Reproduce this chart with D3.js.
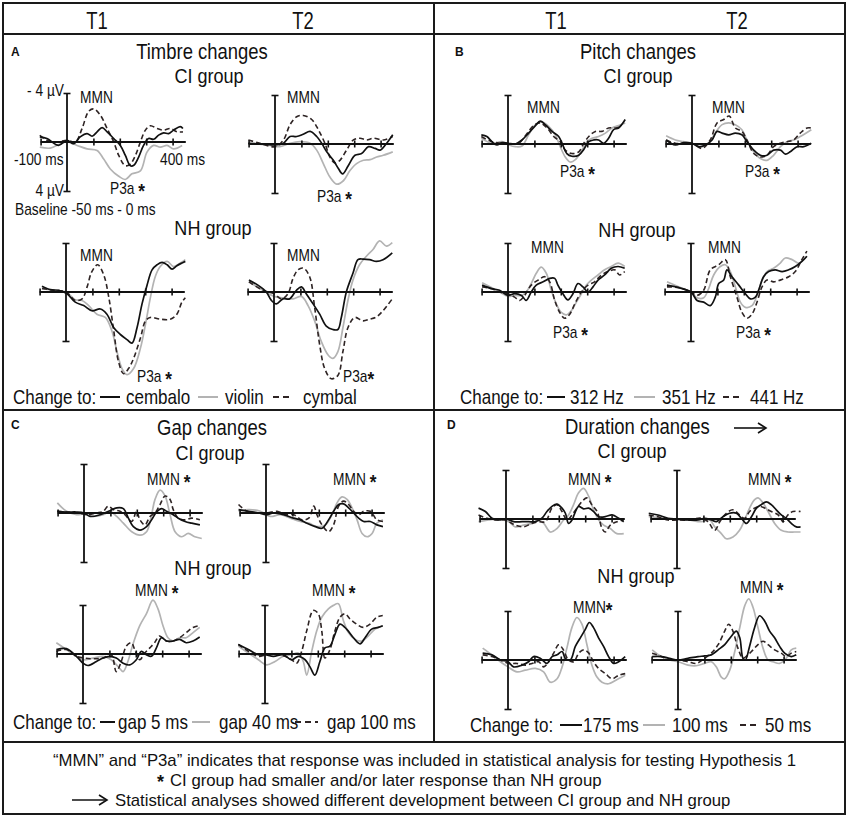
<!DOCTYPE html>
<html><head><meta charset="utf-8">
<script src="https://cdn.jsdelivr.net/npm/d3@7"></script>
<style>
body{margin:0;background:#fff}
svg{display:block}
text{font-family:"Liberation Sans",Arial,sans-serif;fill:#111}
</style></head><body>
<svg id="chart" width="850" height="818"></svg>
<script>
// ---------- DATA: [time in ms, amplitude in µV] (negative plotted up) ----------
const timeTicks = [-100, 100, 200, 300, 400];
const voltTicks = [-4, 4];
const columns = ["T1", "T2"];

// Panel A – Timbre
const timbre_CI_T1_cembalo = [[-103,-0.42],[-76,-0.28],[-32,0.28],[0,-0.14],[25,0.14],[50,-0.42],[76,-0.69],[95,-0.47],[114,-0.83],[133,-1.17],[152,-0.83],[177,-0.28],[202,0.28],[221,1.1],[240,1.94],[253,1.9],[271,1.25],[290,0.28],[309,-0.28],[328,-0.22],[347,-0.56],[366,-0.75],[385,-0.69],[404,-0.97],[429,-1.25],[439,-1.1]];
const timbre_CI_T1_violin = [[-103,0.42],[-63,0.5],[-25,0.14],[0,0],[38,0.28],[76,0.56],[114,0.69],[139,1.39],[164,2.2],[196,2.8],[221,3.06],[246,2.6],[278,2.36],[303,0.83],[328,0.28],[354,0.42],[379,0.28],[404,0.56],[436,0.28]];
const timbre_CI_T1_cymbal = [[-103,-0.55],[-76,-0.14],[-38,0],[0,-0.14],[32,0],[57,-1.1],[82,-2.5],[101,-2.7],[126,-2.2],[152,-1.1],[177,0],[196,1.1],[221,1.94],[240,1.8],[259,1.1],[278,0],[297,-0.97],[316,-1.33],[341,-1.1],[366,-0.97],[391,-1.1],[417,-0.83],[439,-0.83]];
const timbre_CI_T2_cembalo = [[-101,-0.06],[-44,0],[0,0.08],[32,-0.06],[57,-0.61],[82,-0.61],[107,-0.8],[133,-1.03],[158,-0.61],[177,-0.06],[196,0.64],[221,1.33],[240,2.0],[256,2.44],[278,1.75],[303,0.92],[328,0.78],[354,0.22],[379,0.36],[398,0.5],[423,-0.06],[446,-0.75]];
const timbre_CI_T2_violin = [[-101,-0.06],[-32,0.08],[19,0.22],[57,-0.06],[95,-0.19],[133,-0.06],[158,0.5],[183,1.6],[208,2.7],[234,3.28],[259,3.0],[284,2.17],[309,1.6],[335,1.33],[360,1.28],[385,1.06],[410,0.92],[446,0.64]];
const timbre_CI_T2_cymbal = [[-101,-0.33],[-57,-0.06],[0,0.22],[32,-0.33],[57,-1.58],[82,-2.22],[107,-2.33],[139,-2.0],[164,-1.17],[189,-0.06],[208,1.06],[227,1.55],[246,1.33],[271,0.5],[297,-0.33],[322,-0.47],[347,-0.33],[372,-0.47],[410,-0.33],[446,-0.61]];
const timbre_NH_T1_cembalo = [[-91,-0.47],[-59,-0.19],[-28,-0.14],[4,0.14],[35,0.83],[67,1.11],[98,1.53],[130,1.39],[155,1.81],[181,2.92],[206,3.47],[231,3.89],[250,4.17],[269,2.92],[288,0.97],[307,-0.56],[326,-1.81],[345,-2.22],[364,-2.42],[383,-2.22],[402,-1.86],[420,-2.14],[452,-2.5]];
const timbre_NH_T1_violin = [[-91,-0.28],[-47,-0.14],[0,0],[35,0.64],[61,0.69],[86,1.11],[117,1.81],[149,2.08],[174,3.19],[193,4.86],[212,6.25],[231,6.75],[256,6.25],[282,4.58],[301,2.64],[320,0.42],[338,-1.25],[357,-2.08],[383,-2.5],[408,-2.08],[433,-2.36],[452,-2.64]];
const timbre_NH_T1_cymbal = [[-91,-0.28],[-47,-0.14],[0,0],[35,0.69],[61,0.56],[80,-0.42],[98,-1.67],[120,-2.22],[143,-1.39],[162,0.42],[181,3.19],[199,5.69],[218,6.67],[237,6.25],[256,5.42],[282,3.75],[301,2.36],[319,2.08],[357,2.22],[395,2.22],[420,1.81],[439,0.83],[452,0.47]];
const timbre_NH_T2_cembalo = [[-95,-0.97],[-61,-0.56],[-29,0],[-10,0.69],[9,0.97],[34,0.56],[59,0.56],[85,-0.14],[104,-0.42],[122,0.14],[148,0.97],[173,1.81],[198,2.78],[223,3.06],[242,3.06],[255,2.08],[274,0],[299,-1.53],[318,-2.64],[337,-2.69],[362,-2.64],[388,-2.5],[413,-2.64],[448,-3.19]];
const timbre_NH_T2_violin = [[-95,-0.83],[-42,-0.14],[0,0.36],[34,0.47],[72,0.56],[104,0.36],[129,1.11],[154,2.36],[179,4.03],[205,5.14],[223,5.42],[242,4.86],[261,2.92],[280,0.69],[299,-0.97],[324,-2.22],[350,-2.92],[375,-3.47],[400,-4.17],[426,-3.75],[448,-4.03]];
const timbre_NH_T2_cymbal = [[-95,-0.83],[-42,-0.14],[0,0.14],[28,0.56],[53,0.14],[72,-1.11],[91,-1.81],[112,-1.94],[135,-1.25],[154,1.25],[173,4.31],[192,6.25],[217,7.08],[242,6.81],[261,4.86],[280,2.92],[306,2.08],[337,2.36],[362,2.22],[388,2.03],[413,1.53],[448,0.56]];

// Panel B – Pitch
const pitch_CI_T1_312 = [[-101,-0.75],[-80,-0.61],[-61,-0.19],[-42,0.08],[-23,-0.11],[0,-0.06],[28,0],[53,-0.33],[78,-0.89],[104,-1.5],[122,-1.86],[141,-1.58],[167,-1.03],[192,-0.61],[205,-0.06],[223,0.78],[242,1.0],[268,0.92],[287,0.44],[306,-0.19],[325,-0.33],[343,-0.33],[362,-0.06],[381,-0.47],[400,-1.17],[419,-1.31],[444,-2.0]];
const pitch_CI_T1_351 = [[-101,-0.47],[-61,-0.06],[-23,-0.19],[3,0.08],[28,0.22],[53,0.17],[78,-0.75],[104,-1.58],[129,-1.78],[154,-1.44],[179,-0.75],[198,0.22],[217,1.06],[236,1.47],[255,1.28],[280,0.5],[299,-0.19],[318,-0.47],[343,-0.61],[369,-0.89],[394,-1.31],[419,-1.5],[444,-1.72]];
const pitch_CI_T1_441 = [[-101,-0.61],[-61,-0.19],[-23,-0.06],[0,0],[40,-0.06],[66,-0.67],[97,-1.5],[122,-1.72],[148,-1.31],[173,-0.61],[198,-0.19],[217,0.5],[242,0.78],[268,0.64],[287,-0.06],[306,-0.61],[331,-1.03],[356,-1.03],[381,-1.31],[407,-1.31],[432,-1.44]];
const pitch_CI_T2_312 = [[-98,-0.33],[-63,0.08],[-32,-0.11],[0,-0.06],[25,0.22],[51,0.08],[76,-0.33],[95,-1.03],[114,-0.89],[139,-0.75],[164,-0.89],[189,-0.75],[208,-0.19],[234,0.5],[259,0.92],[284,0.92],[309,0.5],[335,0.5],[354,0.83],[372,0.64],[398,0.22],[423,0.22],[452,-0.06]];
const pitch_CI_T2_351 = [[-98,-0.67],[-63,-0.33],[-32,-0.19],[0,-0.06],[32,0.22],[63,-0.06],[88,-0.89],[114,-1.58],[139,-1.72],[164,-1.58],[189,-1.17],[208,-0.33],[234,0.64],[259,1.19],[284,1.33],[309,0.92],[335,0.22],[360,-0.19],[385,-0.33],[410,-0.61],[452,-1.17]];
const pitch_CI_T2_441 = [[-98,-0.33],[-63,-0.06],[0,-0.06],[38,0.36],[69,-0.33],[95,-1.72],[120,-2.0],[141,-2.28],[164,-1.31],[189,-1.03],[208,-0.33],[234,0.78],[259,1.06],[284,0.92],[309,0.22],[335,-0.06],[360,-0.19],[385,-0.33],[410,-0.89],[436,-1.31],[452,-1.31]];
const pitch_NH_T1_312 = [[-98,-0.56],[-63,-0.28],[-32,-0.14],[0,0.28],[25,0.14],[51,0.28],[69,0.69],[88,0],[107,-0.56],[133,-0.83],[158,-1.11],[177,-1.11],[189,-0.56],[208,0.14],[227,0.64],[246,0.14],[265,-0.69],[284,-0.42],[303,0],[322,-0.42],[341,-0.97],[366,-1.39],[391,-1.94],[417,-2.08],[442,-1.94]];
const pitch_NH_T1_351 = [[-98,-0.75],[-63,-0.36],[-32,0],[0,0.36],[25,0.28],[51,0.28],[69,0],[88,-0.69],[107,-1.53],[126,-2.03],[145,-1.53],[164,-0.14],[183,0.97],[202,1.67],[221,1.86],[240,1.53],[259,0.83],[278,0.14],[297,-0.56],[316,-0.97],[341,-1.39],[366,-1.81],[391,-2.08],[417,-2.36],[442,-2.08]];
const pitch_NH_T1_441 = [[-98,-0.42],[-63,-0.28],[-32,0],[0,0.14],[25,0.42],[44,0.69],[63,0.28],[88,-0.56],[114,-0.97],[139,-1.25],[158,-0.83],[177,0.69],[196,1.67],[215,2.14],[234,1.81],[253,0.97],[278,0],[303,-0.56],[328,-0.83],[354,-1.39],[379,-1.67],[404,-1.81],[423,-1.39],[442,-1.67]];
const pitch_NH_T2_312 = [[-91,-0.56],[-47,-0.36],[0,0],[23,0.69],[48,0.83],[73,1.11],[92,0.42],[105,-0.69],[124,-0.97],[136,-1.81],[155,-1.25],[181,-0.56],[206,0.14],[225,0.56],[244,0.42],[256,-0.14],[275,-1.25],[294,-1.67],[319,-1.81],[345,-1.67],[370,-1.81],[395,-2.08],[420,-2.5],[439,-2.92]];
const pitch_NH_T2_351 = [[-91,-0.83],[-47,-0.42],[0,0],[23,0.47],[48,0.47],[67,-0.28],[86,-1.39],[111,-2.08],[130,-2.22],[149,-1.67],[168,-0.42],[187,0.83],[206,1.25],[231,1.11],[250,0.28],[269,-0.97],[288,-1.67],[313,-1.94],[338,-2.36],[357,-2.78],[383,-2.64],[408,-2.36],[439,-2.92]];
const pitch_NH_T2_441 = [[-91,-0.42],[-47,-0.36],[0,0],[23,0.28],[48,-0.14],[73,-1.81],[105,-2.22],[130,-2.64],[149,-1.25],[174,0.42],[193,1.67],[212,2.14],[231,1.81],[250,0.83],[269,-0.42],[288,-0.97],[313,-0.83],[338,-0.97],[370,-1.25],[395,-1.67],[420,-2.64],[439,-3.33]];

// Panel C – Gap
const gap_CI_T1_5 = [[-101,-0.14],[-66,-0.08],[-28,-0.08],[0,0],[23,0.28],[61,0.14],[98,-0.19],[124,-0.42],[149,-0.36],[168,0.42],[187,1.11],[212,1.39],[237,1.11],[256,0.56],[275,-0.08],[294,-0.36],[313,-0.14],[338,0.14],[357,0.42],[383,0.69],[408,0.83],[439,0.97]];
const gap_CI_T1_40 = [[-101,-0.83],[-66,-0.14],[-28,0.14],[0,0.08],[35,0.28],[73,0.14],[98,-0.14],[124,0.28],[149,0.83],[181,1.53],[212,1.81],[237,1.53],[256,0.14],[269,-1.11],[288,-1.86],[307,-1.39],[326,0.14],[345,1.53],[370,1.94],[395,1.67],[420,1.94],[446,2.08]];
const gap_CI_T1_100 = [[-101,-0.14],[-66,-0.08],[-21,0],[10,0.14],[48,0],[73,-0.14],[92,-0.56],[111,-0.28],[136,-0.14],[155,0.14],[181,0.69],[199,-0.14],[212,0.56],[231,0.97],[250,0.28],[269,0],[288,-0.69],[307,-1.39],[326,-1.11],[338,-0.28],[357,0.42],[383,0.56],[408,0.42],[439,0.56]];
const gap_CI_T2_5 = [[-104,-0.28],[-66,-0.14],[-28,0],[0,0.14],[29,0],[67,0.14],[105,0.42],[130,0.56],[155,0.83],[187,1.11],[212,1.25],[237,0.56],[256,-0.14],[275,-0.69],[294,-0.75],[313,-0.42],[332,0],[351,0.42],[370,0.69],[395,0.69],[420,0.97],[443,1.11]];
const gap_CI_T2_40 = [[-104,-0.14],[-66,-0.28],[-21,-0.14],[16,0.28],[54,0.14],[92,0.42],[130,0.69],[162,0.83],[193,1.11],[225,0.97],[250,0.14],[269,-0.83],[288,-1.31],[307,-1.11],[326,-0.42],[345,0.56],[364,1.67],[383,1.94],[402,1.67],[420,0.83],[443,0.56]];
const gap_CI_T2_100 = [[-104,-0.69],[-72,-0.14],[-34,0],[4,0],[42,-0.14],[73,0.14],[105,0.14],[136,0.56],[162,0.42],[181,-0.56],[193,0.14],[212,0.97],[237,1.53],[256,0.97],[275,-0.56],[294,-0.97],[313,-0.69],[332,-0.14],[351,0.14],[370,-0.14],[395,-0.14],[420,0.56],[443,0.69]];
const gap_NH_T1_5 = [[-101,-0.36],[-63,-0.44],[-25,0.19],[0,0.75],[19,0.94],[51,0.61],[76,0.33],[101,0.19],[126,0.33],[152,0.75],[177,0.89],[202,0.47],[221,-0.22],[240,0.06],[259,0.19],[278,-0.5],[297,-1.33],[316,-1.06],[341,-1.06],[366,-1.19],[391,-0.92],[417,-1.06],[442,-1.39]];
const gap_NH_T1_40 = [[-101,-0.92],[-63,-0.36],[-25,0.19],[0,0.47],[38,0.33],[76,0.19],[107,0.47],[133,1.03],[152,1.44],[170,0.61],[189,-0.78],[215,-2.31],[240,-3.28],[265,-4.39],[284,-3.69],[303,-2.31],[322,-1.33],[341,-1.06],[366,-1.33],[391,-1.33],[417,-1.75],[442,-2.17]];
const gap_NH_T1_100 = [[-101,-0.22],[-63,-0.36],[-25,0.19],[6,0.33],[38,0.39],[76,0.33],[107,0.06],[126,1.44],[145,0.61],[164,-0.64],[183,-0.92],[196,-0.36],[215,0.47],[234,-0.08],[253,-0.5],[271,-0.92],[290,-1.47],[316,-1.06],[341,-1.06],[366,-1.33],[391,-1.75],[417,-2.17],[442,-2.31]];
const gap_NH_T2_5 = [[-101,-0.78],[-63,-0.36],[-25,0.06],[0,0.06],[32,0.19],[69,0.06],[101,0.47],[126,0.19],[152,0.47],[170,1.03],[189,1.72],[208,0.61],[227,-0.5],[246,-0.64],[265,-1.61],[284,-2.44],[309,-2.03],[335,-1.33],[360,-0.83],[379,-1.33],[404,-2.03],[429,-2.17],[446,-2.31]];
const gap_NH_T2_40 = [[-101,-0.64],[-63,-0.08],[-25,0.47],[6,0.89],[38,0.61],[69,0.19],[101,0.06],[126,-0.08],[145,0.61],[158,1.72],[177,-0.22],[196,-1.89],[215,-3.0],[240,-3.69],[259,-3.97],[278,-4.11],[297,-2.72],[316,-1.75],[341,-1.19],[366,-1.06],[391,-1.47],[417,-2.03],[446,-2.31]];
const gap_NH_T2_100 = [[-101,-0.78],[-63,-0.22],[-25,0.19],[6,0.06],[44,0],[76,0.19],[101,0.47],[120,0.75],[139,-0.22],[158,-1.89],[183,-3.56],[202,-3.28],[215,-1.89],[227,0.33],[246,-0.36],[265,-1.89],[284,-3.0],[303,-3.28],[322,-2.86],[347,-2.44],[372,-2.17],[398,-2.44],[423,-3.0],[446,-3.14]];

// Panel D – Duration
const dur_CI_T1_175 = [[-104,-0.89],[-78,-0.61],[-53,-0.06],[-28,0.08],[0,0],[29,0.22],[61,0.22],[86,0.22],[111,0.22],[136,-0.06],[155,-0.61],[174,-1.03],[193,-1.22],[212,-0.89],[225,-0.47],[237,0.36],[250,0.08],[263,-0.61],[275,-1.03],[294,-0.83],[313,-0.89],[332,-0.61],[351,-0.19],[376,-0.19],[402,-0.33],[427,-0.06],[446,0.22]];
const dur_CI_T1_100 = [[-104,0.22],[-66,0.08],[-28,0],[10,0.22],[35,0.64],[67,0.5],[98,0.36],[124,0.08],[143,0.36],[168,1.06],[193,0.78],[218,0.08],[237,-0.33],[256,-1.17],[275,-2.14],[294,-2.5],[313,-1.86],[332,-0.75],[351,0.08],[370,0.5],[395,0.78],[420,1.19],[446,1.19]];
const dur_CI_T1_50 = [[-104,-0.33],[-72,-0.06],[-40,0.08],[-3,0.08],[35,0.5],[67,0.64],[98,0.36],[124,0.22],[149,0.22],[174,-0.89],[193,-1.17],[212,-0.61],[231,0.08],[250,-0.33],[269,-0.89],[288,-1.44],[307,-1.72],[325,-1.17],[345,-0.61],[364,0.78],[376,1.06],[395,0.5],[420,0.22],[446,0.08]];
const dur_CI_T2_175 = [[-107,-0.47],[-72,-0.33],[-34,-0.06],[0,0],[42,0.08],[80,0.08],[105,-0.06],[130,0.08],[149,0.22],[174,-0.19],[199,-0.47],[225,-0.47],[244,-0.06],[263,0.36],[282,-0.19],[301,-0.89],[319,-1.17],[338,-1.39],[357,-1.17],[376,-0.75],[395,-0.33],[414,-0.06],[433,0.36],[452,0.64],[468,0.64]];
const dur_CI_T2_100 = [[-107,-0.19],[-72,-0.11],[-34,0],[0,0.08],[42,0.08],[92,0.22],[124,0.08],[143,0.64],[168,1.19],[187,1.61],[212,1.47],[237,0.92],[256,0.08],[275,-0.89],[294,-1.58],[307,-1.72],[326,-1.31],[345,-0.61],[370,0.36],[395,0.92],[420,1.06],[445,1.06],[468,1.06]];
const dur_CI_T2_50 = [[-107,-0.33],[-72,-0.19],[-34,0.08],[0,0.08],[42,0.08],[92,-0.06],[117,0.22],[143,0.92],[162,0.22],[187,-0.47],[212,-0.75],[237,-0.33],[256,-0.06],[275,-0.61],[294,-0.89],[313,-1.03],[332,-0.89],[357,-0.61],[383,-0.33],[402,0.22],[420,-0.33],[439,-0.61],[468,-0.61]];
const dur_NH_T1_175 = [[-96,-0.56],[-61,-0.42],[-29,0],[0,0.14],[21,0.56],[53,0.42],[78,0.14],[97,-0.28],[122,-0.14],[148,0.28],[167,-0.28],[186,-0.42],[205,-0.69],[217,-0.14],[236,0],[255,-1.11],[274,-1.81],[293,-2.5],[308,-3.06],[324,-2.64],[343,-1.81],[362,-1.11],[381,-0.28],[400,0.28],[419,0.14],[444,-0.28]];
const dur_NH_T1_100 = [[-96,-0.97],[-61,-0.42],[-29,0.14],[0,0.56],[34,0.97],[66,0.83],[104,0.69],[135,0.97],[160,1.81],[186,1.53],[205,0.56],[223,-0.97],[242,-2.64],[261,-3.47],[280,-2.92],[299,-1.25],[318,0.42],[337,1.39],[356,1.81],[381,1.94],[407,1.67],[444,1.25]];
const dur_NH_T1_50 = [[-96,-0.42],[-61,-0.28],[-29,0],[3,0.28],[34,0.28],[66,0.42],[91,0.28],[116,0.14],[135,0.56],[154,0.14],[173,-0.56],[192,-1.25],[210,-0.83],[229,0],[249,0.14],[268,-0.56],[287,-0.83],[306,-0.56],[324,0.14],[343,0.69],[369,1.11],[394,1.53],[419,1.25],[444,1.11]];
const dur_NH_T2_175 = [[-98,-0.28],[-63,-0.28],[-32,-0.14],[0,0],[38,-0.14],[76,-0.28],[101,-0.33],[126,-0.42],[152,-0.83],[177,-1.25],[202,-1.94],[221,-2.36],[234,-1.81],[246,-0.14],[255,0],[271,-1.11],[290,-2.64],[309,-3.61],[328,-3.19],[347,-2.36],[366,-1.81],[385,-1.11],[404,-0.56],[429,-0.28],[448,-0.42]];
const dur_NH_T2_100 = [[-98,-0.83],[-63,-0.28],[-32,0],[0,0.14],[38,0.42],[69,0.47],[101,0.28],[126,0.14],[145,0.56],[164,1.39],[177,1.53],[196,0.83],[215,-0.69],[234,-2.64],[253,-4.44],[268,-5.0],[284,-4.31],[303,-2.64],[322,-0.97],[341,0],[360,0.14],[385,0.28],[410,-0.14],[429,-0.83],[448,-0.97]];
const dur_NH_T2_50 = [[-98,-0.56],[-63,-0.28],[-32,0],[0,0],[38,0.14],[69,0.28],[101,-0.14],[126,-0.56],[152,-1.25],[177,-2.36],[192,-2.92],[208,-2.36],[227,-0.97],[246,-0.14],[265,-0.42],[284,-0.83],[303,-1.25],[322,-1.53],[341,-1.25],[366,-0.83],[391,-0.56],[410,-0.28],[429,-0.56],[448,-0.69]];

const timbreLegend = ["cembalo", "violin", "cymbal"];
const pitchLegend = ["312 Hz", "351 Hz", "441 Hz"];
const gapLegend = ["gap 5 ms", "gap 40 ms", "gap 100 ms"];
const durLegend = ["175 ms", "100 ms", "50 ms"];

// ---------- LAYOUT ----------
const svg = d3.select("#chart");
const styles = [
  {stroke:"#111", dash:null, w:1.7},
  {stroke:"#b3b3b3", dash:null, w:1.7},
  {stroke:"#2e2424", dash:"5,3", w:1.6}
];
const PX_PER_100MS = 26.4, HALF_Y = 49;

const plots = [
  {series:[timbre_CI_T1_cembalo,timbre_CI_T1_violin,timbre_CI_T1_cymbal], ox:67, oy:142},
  {series:[timbre_CI_T2_cembalo,timbre_CI_T2_violin,timbre_CI_T2_cymbal], ox:275, oy:144},
  {series:[timbre_NH_T1_cembalo,timbre_NH_T1_violin,timbre_NH_T1_cymbal], ox:66, oy:292},
  {series:[timbre_NH_T2_cembalo,timbre_NH_T2_violin,timbre_NH_T2_cymbal], ox:274, oy:292},
  {series:[pitch_CI_T1_312,pitch_CI_T1_351,pitch_CI_T1_441], ox:508, oy:144},
  {series:[pitch_CI_T2_312,pitch_CI_T2_351,pitch_CI_T2_441], ox:692, oy:144},
  {series:[pitch_NH_T1_312,pitch_NH_T1_351,pitch_NH_T1_441], ox:508, oy:292},
  {series:[pitch_NH_T2_312,pitch_NH_T2_351,pitch_NH_T2_441], ox:691, oy:292},
  {series:[gap_CI_T1_5,gap_CI_T1_40,gap_CI_T1_100], ox:84, oy:513},
  {series:[gap_CI_T2_5,gap_CI_T2_40,gap_CI_T2_100], ox:266, oy:513},
  {series:[gap_NH_T1_5,gap_NH_T1_40,gap_NH_T1_100], ox:83, oy:654},
  {series:[gap_NH_T2_5,gap_NH_T2_40,gap_NH_T2_100], ox:265, oy:654},
  {series:[dur_CI_T1_175,dur_CI_T1_100,dur_CI_T1_50], ox:506, oy:519},
  {series:[dur_CI_T2_175,dur_CI_T2_100,dur_CI_T2_50], ox:677, oy:519},
  {series:[dur_NH_T1_175,dur_NH_T1_100,dur_NH_T1_50], ox:508, oy:660},
  {series:[dur_NH_T2_175,dur_NH_T2_100,dur_NH_T2_50], ox:678, oy:660}
];

// frame
const frame = svg.append("g").attr("fill","none").attr("stroke","#1a1a1a").attr("stroke-width",2);
frame.append("rect").attr("x",3).attr("y",3).attr("width",842).attr("height",811);
frame.append("line").attr("x1",3).attr("x2",845).attr("y1",34).attr("y2",34);
frame.append("line").attr("x1",3).attr("x2",845).attr("y1",410).attr("y2",410);
frame.append("line").attr("x1",3).attr("x2",845).attr("y1",742).attr("y2",742);
frame.append("line").attr("x1",434).attr("x2",434).attr("y1",3).attr("y2",742);

// text helper (condensed face emulated with a horizontal scale)
function txt(s, x, y, size, sx, anchor, weight){
  return svg.append("text").attr("transform",`translate(${x},${y}) scale(${sx},1)`)
    .attr("font-size",size).attr("text-anchor",anchor||"start")
    .attr("font-weight",weight||"normal").text(s);
}

// header
[97,303,556,737].forEach((x,i)=> txt(columns[i%2],x,29,23,0.8,"middle"));

// panel letters
[["A",11,56],["B",455,56],["C",11,429],["D",447,429]].forEach(([s,x,y])=> txt(s,x,y,12,1,"start","bold"));

// titles
const TS=22, TX=0.84, GS=21, GX=0.86;
txt("Timbre changes",202,59,TS,TX,"middle"); txt("CI group",209,83,GS,GX,"middle"); txt("NH group",213,235,GS,GX,"middle");
txt("Pitch changes",638,59,TS,TX,"middle"); txt("CI group",638,83,GS,GX,"middle"); txt("NH group",637,237,GS,GX,"middle");
txt("Gap changes",212,435,TS,TX,"middle"); txt("CI group",210,460,GS,GX,"middle"); txt("NH group",213,575,GS,GX,"middle");
txt("Duration changes",565,434,TS,TX,"start"); txt("CI group",632,458,GS,GX,"middle"); txt("NH group",636,583,GS,GX,"middle");

function arrow(x1,x2,y){
  const g = svg.append("g").attr("stroke","#111").attr("stroke-width",1.6).attr("fill","none");
  g.append("line").attr("x1",x1).attr("x2",x2).attr("y1",y).attr("y2",y);
  g.append("path").attr("d",`M${x2-8},${y-5} L${x2},${y} L${x2-8},${y+5}`);
}
arrow(734,766,428);

// plots
const line = d3.line().curve(d3.curveCatmullRom.alpha(0.5));
plots.forEach(p=>{
  const x = d3.scaleLinear().domain([-100,400]).range([p.ox-PX_PER_100MS, p.ox+4*PX_PER_100MS]);
  const y = d3.scaleLinear().domain([-4,4]).range([p.oy-HALF_Y, p.oy+HALF_Y]);
  const g = svg.append("g");
  [1,2,0].forEach(i=>{
    const st = styles[i];
    g.append("path").datum(p.series[i])
      .attr("d", line.x(d=>x(d[0])).y(d=>y(d[1])))
      .attr("fill","none").attr("stroke",st.stroke).attr("stroke-width",st.w)
      .attr("stroke-dasharray",st.dash).attr("stroke-linejoin","round");
  });
  const xa = g.append("g").attr("transform",`translate(0,${p.oy-3.5})`)
    .call(d3.axisBottom(x).tickValues(timeTicks).tickSizeInner(7).tickSizeOuter(0).tickFormat(""));
  xa.select(".domain").remove();
  const ya = g.append("g").attr("transform",`translate(${p.ox+3.5},0)`)
    .call(d3.axisLeft(y).tickValues(voltTicks).tickSizeInner(7).tickSizeOuter(0).tickFormat(""));
  ya.select(".domain").remove();
  g.selectAll(".tick line").attr("stroke","#111").attr("stroke-width",1.6);
  g.append("line").attr("x1",x(-100)).attr("x2",x(450)).attr("y1",y(0)).attr("y2",y(0))
    .attr("stroke","#111").attr("stroke-width",1.8);
  g.append("line").attr("x1",p.ox).attr("x2",p.ox).attr("y1",y(-4)).attr("y2",y(4))
    .attr("stroke","#111").attr("stroke-width",1.8);
});

// axis labels (first plot)
const LS=16, LX=0.86;
txt("- 4 µV",64,96,LS,LX,"end"); txt("4 µV",64,196,LS,LX,"end");
txt("-100 ms",14,165,LS,LX); txt("400 ms",160,165,LS,LX);
txt("Baseline -50 ms - 0 ms",15,215,LS,LX);

// component labels
function comp(s, star, x, y){
  const t = txt(s,x,y,LS,LX);
  if(star){ t.append("tspan").attr("font-size",20).attr("font-weight","bold").attr("dy",4).text(star); }
}
comp("MMN","",80,103); comp("P3a ","*",110,194);
comp("MMN","",287,103); comp("P3a ","*",317,202);
comp("MMN","",80,261); comp("P3a ","*",137,382);
comp("MMN","",287,261); comp("P3a","*",343,382);
comp("MMN","",527,113); comp("P3a ","*",560,177);
comp("MMN","",712,113); comp("P3a ","*",745,177);
comp("MMN","",531,253); comp("P3a ","*",553,338);
comp("MMN","",708,253); comp("P3a ","*",736,338);
comp("MMN ","*",147,485); comp("MMN ","*",333,485);
comp("MMN ","*",135,596); comp("MMN ","*",312,596);
comp("MMN ","*",568,485); comp("MMN ","*",748,485);
comp("MMN","*",573,613); comp("MMN ","*",740,593);

// legends
function legend(labels, y, xs){
  txt("Change to:", xs[0], y, 20, 0.85);
  for(let i=0;i<3;i++){
    const st = styles[i];
    svg.append("line").attr("x1",xs[1+i*3]).attr("x2",xs[2+i*3]).attr("y1",y-7).attr("y2",y-7)
      .attr("stroke",st.stroke).attr("stroke-width",2).attr("stroke-dasharray",st.dash?"6,4":null);
    txt(labels[i], xs[3+i*3], y, 20, 0.85);
  }
}
legend(timbreLegend, 404, [13,100,120,126,198,218,225,273,293,303]);
legend(pitchLegend, 404, [460,547,565,570,634,655,662,723,742,750]);
legend(gapLegend, 729, [13,100,115,118,192,210,219,295,318,327]);
legend(durLegend, 732, [470,560,582,583,643,665,672,740,757,765]);

// footer
const FS=17, FX=0.985;
txt("“MMN” and “P3a” indicates that response was included in statistical analysis for testing Hypothesis 1",53,766,FS,FX);
txt("*",157,788,18,1,"start","bold");
txt("CI group had smaller and/or later response than NH group",170,786,FS,FX);
arrow(72,107,800);
txt("Statistical analyses showed different development between CI group and NH group",115,806,FS,FX);
</script>
</body></html>
